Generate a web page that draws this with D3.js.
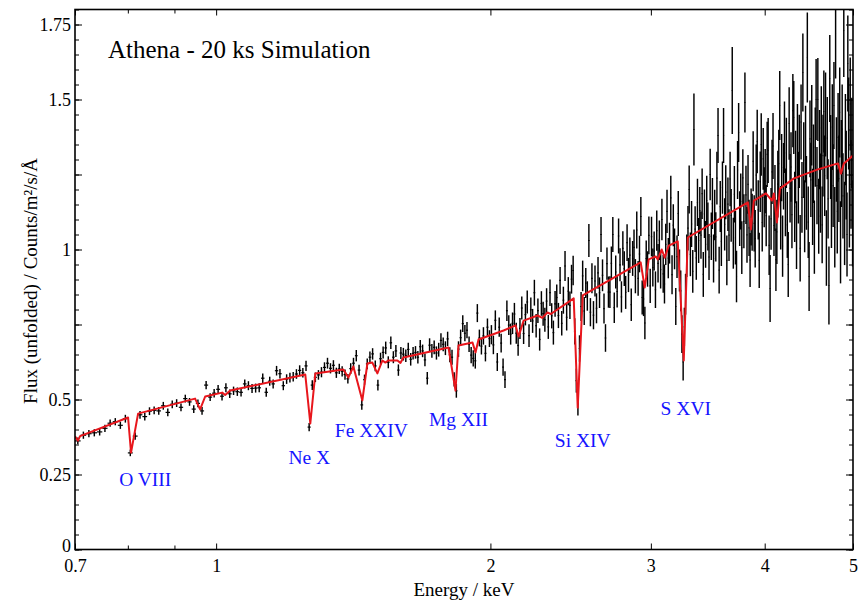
<!DOCTYPE html>
<html><head><meta charset="utf-8">
<script src="https://cdn.jsdelivr.net/npm/d3@7"></script>
<style>body{margin:0;background:#fff}svg{display:block}text{font-family:"Liberation Serif","Times New Roman",serif}</style>
</head><body><svg id="c" width="868" height="603"></svg>
<script>
// ---- data ----
const energy=[
0.705,0.715,0.725,0.735,0.745,0.755,0.765,0.775,0.785,0.795,
0.805,0.815,0.825,0.835,0.845,0.855,0.865,0.875,0.885,0.895,
0.905,0.915,0.925,0.935,0.945,0.955,0.965,0.975,0.985,0.995,
1.005,1.015,1.025,1.035,1.045,1.055,1.065,1.075,1.085,1.095,
1.105,1.115,1.125,1.135,1.145,1.155,1.165,1.175,1.185,1.195,
1.205,1.215,1.225,1.235,1.245,1.255,1.265,1.275,1.285,1.295,
1.305,1.315,1.325,1.335,1.345,1.355,1.365,1.375,1.385,1.395,
1.405,1.415,1.425,1.435,1.445,1.455,1.465,1.475,1.485,1.495,
1.505,1.515,1.525,1.535,1.545,1.555,1.565,1.575,1.585,1.595,
1.605,1.615,1.625,1.635,1.645,1.655,1.665,1.675,1.685,1.695,
1.705,1.715,1.725,1.735,1.745,1.755,1.765,1.775,1.785,1.795,
1.805,1.815,1.825,1.835,1.845,1.855,1.865,1.875,1.885,1.895,
1.905,1.915,1.925,1.935,1.945,1.955,1.965,1.975,1.985,1.995,
2.005,2.015,2.025,2.035,2.045,2.055,2.065,2.075,2.085,2.095,
2.105,2.115,2.125,2.135,2.145,2.155,2.165,2.175,2.185,2.195,
2.205,2.215,2.225,2.235,2.245,2.255,2.265,2.275,2.285,2.295,
2.305,2.315,2.325,2.335,2.345,2.355,2.365,2.375,2.385,2.395,
2.405,2.415,2.425,2.435,2.445,2.455,2.465,2.475,2.485,2.495,
2.505,2.515,2.525,2.535,2.545,2.555,2.565,2.575,2.585,2.595,
2.605,2.615,2.625,2.635,2.645,2.655,2.665,2.675,2.685,2.695,
2.705,2.715,2.725,2.735,2.745,2.755,2.765,2.775,2.785,2.795,
2.805,2.815,2.825,2.835,2.845,2.855,2.865,2.875,2.885,2.895,
2.905,2.915,2.925,2.935,2.945,2.955,2.965,2.975,2.985,2.995,
3.005,3.015,3.025,3.035,3.045,3.055,3.065,3.075,3.085,3.095,
3.105,3.115,3.125,3.135,3.145,3.155,3.165,3.175,3.185,3.195,
3.205,3.215,3.225,3.235,3.245,3.255,3.265,3.275,3.285,3.295,
3.305,3.315,3.325,3.335,3.345,3.355,3.365,3.375,3.385,3.395,
3.405,3.415,3.425,3.435,3.445,3.455,3.465,3.475,3.485,3.495,
3.505,3.515,3.525,3.535,3.545,3.555,3.565,3.575,3.585,3.595,
3.605,3.615,3.625,3.635,3.645,3.655,3.665,3.675,3.685,3.695,
3.705,3.715,3.725,3.735,3.745,3.755,3.765,3.775,3.785,3.795,
3.805,3.815,3.825,3.835,3.845,3.855,3.865,3.875,3.885,3.895,
3.905,3.915,3.925,3.935,3.945,3.955,3.965,3.975,3.985,3.995,
4.005,4.015,4.025,4.035,4.045,4.055,4.065,4.075,4.085,4.095,
4.105,4.115,4.125,4.135,4.145,4.155,4.165,4.175,4.185,4.195,
4.205,4.215,4.225,4.235,4.245,4.255,4.265,4.275,4.285,4.295,
4.305,4.315,4.325,4.335,4.345,4.355,4.365,4.375,4.385,4.395,
4.405,4.415,4.425,4.435,4.445,4.455,4.465,4.475,4.485,4.495,
4.505,4.515,4.525,4.535,4.545,4.555,4.565,4.575,4.585,4.595,
4.605,4.615,4.625,4.635,4.645,4.655,4.665,4.675,4.685,4.695,
4.705,4.715,4.725,4.735,4.745,4.755,4.765,4.775,4.785,4.795,
4.805,4.815,4.825,4.835,4.845,4.855,4.865,4.875,4.885,4.895,
4.905,4.915,4.925,4.935,4.945,4.955,4.965,4.975,4.985,4.995];

const flux=[
0.362,0.381,0.386,0.389,0.392,0.404,0.421,0.426,0.414,0.436,
0.322,0.378,0.449,0.443,0.461,0.464,0.462,0.479,0.457,0.484,
0.488,0.474,0.503,0.492,0.468,0.487,0.462,0.548,0.508,0.521,
0.534,0.511,0.539,0.519,0.529,0.526,0.524,0.552,0.546,0.537,
0.538,0.539,0.571,0.524,0.561,0.552,0.596,0.586,0.546,0.568,
0.573,0.576,0.585,0.597,0.589,0.612,0.408,0.548,0.574,0.582,
0.591,0.607,0.621,0.604,0.614,0.589,0.602,0.594,0.583,0.569,
0.603,0.621,0.646,0.598,0.482,0.566,0.619,0.641,0.652,0.612,
0.548,0.636,0.657,0.672,0.624,0.689,0.641,0.662,0.598,0.655,
0.651,0.646,0.667,0.634,0.654,0.657,0.641,0.676,0.662,0.632,
0.571,0.681,0.662,0.674,0.655,0.666,0.697,0.684,0.671,0.702,
0.649,0.641,0.567,0.529,0.668,0.706,0.753,0.721,0.731,0.684,
0.648,0.637,0.629,0.788,0.705,0.678,0.712,0.654,0.741,0.703,
0.716,0.682,0.764,0.625,0.741,0.688,0.608,0.566,0.796,0.748,
0.718,0.754,0.785,0.721,0.680,0.737,0.805,0.720,0.783,0.825,
0.713,0.799,0.762,0.856,0.746,0.796,0.700,0.820,0.786,0.766,
0.828,0.742,0.856,0.779,0.723,0.819,0.840,0.780,0.897,0.754,
0.831,0.945,0.774,0.861,0.814,0.901,0.930,0.727,0.563,0.485,
0.670,0.810,0.912,0.795,0.888,0.845,1.030,0.791,0.904,0.781,
0.895,0.804,0.922,0.856,1.050,0.914,0.803,0.705,0.953,0.858,
0.858,0.954,1.050,0.806,0.925,0.860,1.045,0.949,0.842,1.004,
0.936,0.857,1.023,0.915,0.981,0.816,0.970,1.007,0.911,1.065,
0.904,0.985,1.110,0.840,0.835,0.755,0.970,0.935,1.047,0.879,
1.043,0.940,0.995,0.866,1.063,0.954,1.031,0.933,1.100,0.919,
0.885,1.017,1.127,0.971,1.021,1.172,0.916,1.081,1.002,0.810,
0.976,1.120,0.930,0.862,0.718,0.625,0.742,0.851,0.979,1.071,
1.200,0.984,1.085,0.927,1.400,1.068,0.972,1.157,1.030,1.130,
1.048,1.186,0.917,1.119,1.017,1.163,1.077,0.975,1.250,1.044,
1.153,0.970,1.115,1.042,1.238,1.380,0.931,1.143,1.027,1.206,
1.380,1.084,1.191,0.964,1.151,1.048,1.235,1.114,1.530,1.021,
1.184,1.039,0.910,1.265,1.390,1.103,1.160,1.006,1.239,1.094,
1.490,1.182,1.049,1.217,1.072,0.965,1.108,1.091,1.294,1.087,
1.036,1.248,1.360,1.132,0.964,1.226,1.350,1.090,1.302,1.174,
1.228,1.113,1.317,1.330,1.014,0.870,1.102,1.259,1.345,1.080,
1.172,0.966,1.059,1.218,1.286,1.480,1.106,1.273,1.011,1.244,
1.374,1.157,1.322,1.082,0.950,1.420,1.204,1.275,1.116,1.463,
1.440,1.142,1.275,1.048,1.361,1.206,1.327,1.004,1.425,1.174,
1.590,1.298,1.111,1.351,1.189,1.640,1.091,0.910,1.369,1.232,
1.414,1.142,1.286,1.041,1.341,1.500,1.213,1.500,1.111,1.333,
1.188,1.405,1.082,1.313,1.460,1.246,1.450,1.005,1.371,1.169,
0.880,1.570,1.308,1.141,1.408,1.213,1.480,1.074,1.720,1.300,
1.127,1.374,1.236,1.457,1.024,1.287,1.401,1.179,1.730,1.087,
1.366,1.248,1.050,1.620,1.420,1.153,1.485,1.217,1.355,1.087];

const fluxErr=[
0.011,0.012,0.012,0.012,0.012,0.012,0.012,0.012,0.012,0.013,
0.011,0.012,0.013,0.013,0.013,0.013,0.013,0.013,0.013,0.013,
0.013,0.013,0.013,0.013,0.013,0.013,0.013,0.014,0.013,0.014,
0.014,0.014,0.015,0.014,0.014,0.014,0.014,0.015,0.015,0.015,
0.015,0.015,0.016,0.015,0.015,0.015,0.016,0.016,0.015,0.016,
0.016,0.016,0.016,0.017,0.016,0.017,0.014,0.016,0.016,0.016,
0.017,0.017,0.018,0.017,0.017,0.017,0.017,0.017,0.017,0.016,
0.018,0.018,0.019,0.018,0.016,0.017,0.018,0.019,0.019,0.018,
0.018,0.020,0.020,0.021,0.020,0.021,0.020,0.020,0.019,0.020,
0.021,0.021,0.022,0.021,0.021,0.021,0.021,0.022,0.021,0.021,
0.021,0.023,0.023,0.023,0.022,0.023,0.024,0.023,0.023,0.024,
0.025,0.025,0.024,0.023,0.026,0.027,0.028,0.027,0.027,0.026,
0.027,0.027,0.026,0.030,0.028,0.028,0.029,0.027,0.029,0.028,
0.032,0.031,0.033,0.030,0.032,0.031,0.029,0.028,0.034,0.033,
0.035,0.036,0.037,0.035,0.034,0.035,0.038,0.035,0.036,0.038,
0.038,0.041,0.040,0.043,0.039,0.041,0.037,0.041,0.040,0.040,
0.043,0.040,0.044,0.042,0.040,0.043,0.043,0.042,0.045,0.041,
0.045,0.050,0.044,0.047,0.046,0.048,0.049,0.044,0.040,0.038,
0.044,0.048,0.051,0.047,0.050,0.049,0.055,0.047,0.050,0.047,
0.052,0.050,0.053,0.051,0.058,0.053,0.050,0.046,0.054,0.052,
0.053,0.056,0.058,0.051,0.055,0.053,0.058,0.055,0.052,0.057,
0.058,0.055,0.061,0.057,0.059,0.054,0.058,0.060,0.057,0.062,
0.058,0.061,0.065,0.057,0.057,0.054,0.060,0.059,0.063,0.057,
0.066,0.063,0.065,0.061,0.067,0.064,0.066,0.063,0.069,0.063,
0.065,0.069,0.072,0.067,0.068,0.074,0.065,0.070,0.068,0.062,
0.071,0.075,0.070,0.068,0.063,0.062,0.064,0.068,0.071,0.074,
0.080,0.073,0.077,0.071,0.120,0.076,0.073,0.079,0.075,0.078,
0.079,0.084,0.075,0.081,0.078,0.083,0.080,0.077,0.086,0.079,
0.085,0.080,0.084,0.082,0.088,0.092,0.078,0.085,0.082,0.087,
0.092,0.087,0.090,0.083,0.089,0.086,0.091,0.088,0.145,0.085,
0.094,0.089,0.086,0.097,0.098,0.091,0.093,0.088,0.095,0.090,
0.100,0.097,0.093,0.098,0.094,0.090,0.095,0.095,0.100,0.094,
0.096,0.102,0.106,0.099,0.092,0.101,0.104,0.097,0.103,0.100,
0.107,0.102,0.109,0.108,0.099,0.112,0.103,0.107,0.110,0.102,
0.110,0.104,0.107,0.111,0.113,0.115,0.106,0.112,0.102,0.111,
0.119,0.113,0.117,0.110,0.108,0.121,0.114,0.116,0.112,0.122,
0.122,0.117,0.121,0.113,0.124,0.119,0.122,0.111,0.125,0.118,
0.130,0.126,0.120,0.128,0.123,0.150,0.119,0.115,0.128,0.124,
0.134,0.127,0.131,0.122,0.132,0.135,0.129,0.138,0.125,0.132,
0.132,0.139,0.128,0.136,0.137,0.134,0.140,0.126,0.137,0.132,
0.130,0.145,0.140,0.136,0.143,0.138,0.145,0.134,0.150,0.141,
0.140,0.148,0.144,0.150,0.137,0.145,0.149,0.142,0.155,0.139,
0.152,0.148,0.140,0.160,0.153,0.146,0.155,0.148,0.151,0.144];

const modelEnergy=[0.700,0.7053,0.709,0.8005,0.8065,0.8210,0.9482,0.9603,0.9727,1.0154,1.0231,1.0361,
1.2527,1.2687,1.2849,1.3793,1.3967,1.4145,1.4470,1.4655,1.4841,1.5030,1.5222,1.5338,1.5450,1.5811,1.5931,1.6052,
1.7989,1.8310,1.8449,1.9115,1.9261,1.9408,2.0676,2.1314,2.1476,2.1750,2.2533,2.2800,2.3100,2.3300,
2.4686,2.4937,2.5254,2.9239,2.9537,2.9838,3.0371,3.0525,3.0836,3.1071,3.1387,3.2110,3.2601,3.2933,
3.8336,3.8628,3.8922,4.0122,4.0737,4.0943,4.1255,4.1569,4.3068,4.5756,4.8131,4.8497,4.8867,5.0000];
const modelFlux=[0.377,0.363,0.378,0.440,0.323,0.453,0.503,0.467,0.510,0.523,0.515,0.530,
0.583,0.420,0.587,0.600,0.573,0.610,0.497,0.620,0.623,0.587,0.630,0.623,0.630,0.630,0.622,0.640,
0.673,0.530,0.680,0.690,0.657,0.700,0.730,0.747,0.710,0.763,0.780,0.772,0.790,0.785,
0.837,0.473,0.847,0.957,0.873,0.967,0.977,0.967,1.000,0.973,1.013,1.027,0.630,1.040,
1.157,1.067,1.163,1.187,1.163,1.187,1.090,1.203,1.237,1.267,1.287,1.253,1.287,1.313];

const xTickValues=[0.7,1,2,3,4,5];
const xMinorTickValues=[0.8,0.9];
const yMajorTickValues=[0,0.25,0.5,0.75,1,1.25,1.5,1.75];
const yLabelValues=[0,0.25,0.5,1,1.5,1.75];
const lineNames=["O VIII","Ne X","Fe XXIV","Mg XII","Si XIV","S XVI"];
const lineLabelEnergy=[0.836,1.2655,1.4805,1.845,2.5254,3.277];
const lineLabelFlux=[0.212,0.285,0.375,0.412,0.342,0.448];
const binHalfWidth=0.005;

// ---- drawing ----
const svg=d3.select("#c");
const L=75,R=853,T=9.5,B=549.5;
const x=d3.scaleLog().domain([0.7,5]).range([L,R]);
const y=d3.scaleLinear().domain([0,1.8]).range([B,T]);
const FONT='"Liberation Serif","Times New Roman",serif';

svg.append("defs").append("clipPath").attr("id","clip")
  .append("rect").attr("x",L).attr("y",T).attr("width",R-L).attr("height",B-T);

// data points
const gd=svg.append("g").attr("clip-path","url(#clip)").attr("stroke","#000");
const idx=d3.range(energy.length);
gd.selectAll("line.v").data(idx).join("line").attr("class","v")
  .attr("stroke-width",1.45)
  .attr("x1",i=>x(energy[i])).attr("x2",i=>x(energy[i]))
  .attr("y1",i=>y(flux[i]-fluxErr[i])).attr("y2",i=>y(flux[i]+fluxErr[i]));
gd.selectAll("line.h").data(idx).join("line").attr("class","h")
  .attr("stroke-width",1.2)
  .attr("x1",i=>x(energy[i]-binHalfWidth)).attr("x2",i=>x(energy[i]+binHalfWidth))
  .attr("y1",i=>y(flux[i])).attr("y2",i=>y(flux[i]));

// model
const mi=d3.range(modelEnergy.length);
svg.append("path").attr("clip-path","url(#clip)")
  .attr("d",d3.line().x(i=>x(modelEnergy[i])).y(i=>y(modelFlux[i]))(mi))
  .attr("fill","none").attr("stroke","#e8161c").attr("stroke-width",2).attr("stroke-linejoin","round");

// axes
function styleAxis(g){
  g.select(".domain").remove();
  g.selectAll("line").attr("stroke","#000").attr("stroke-width",1);
  g.selectAll("text").attr("font-family",FONT).attr("font-size",18).attr("fill","#000");
}
svg.append("g").attr("transform",`translate(0,${B})`)
  .call(d3.axisBottom(x).tickValues(xTickValues).tickFormat(d3.format("")).tickSize(-6).tickPadding(10)).call(styleAxis);
svg.append("g").attr("transform",`translate(0,${B})`)
  .call(d3.axisBottom(x).tickValues(xMinorTickValues).tickFormat("").tickSize(-4)).call(styleAxis);
svg.append("g").attr("transform",`translate(0,${T})`)
  .call(d3.axisTop(x).tickValues(xTickValues).tickFormat("").tickSize(-6)).call(styleAxis);
svg.append("g").attr("transform",`translate(0,${T})`)
  .call(d3.axisTop(x).tickValues(xMinorTickValues).tickFormat("").tickSize(-4)).call(styleAxis);

const yMinor=d3.range(0,1.8001,0.05);
svg.append("g").attr("transform",`translate(${L},0)`)
  .call(d3.axisLeft(y).tickValues(yMinor).tickFormat("").tickSize(-4)).call(styleAxis);
svg.append("g").attr("transform",`translate(${L},0)`)
  .call(d3.axisLeft(y).tickValues(yMajorTickValues).tickFormat("").tickSize(-7)).call(styleAxis);
const yLab=svg.append("g").attr("transform",`translate(${L},0)`)
  .call(d3.axisLeft(y).tickValues(yLabelValues).tickFormat(d=>String(d)).tickSize(0).tickPadding(4)).call(styleAxis);
yLab.selectAll("text").filter(d=>d===0).attr("dy","0.1em");
svg.append("g").attr("transform",`translate(${R},0)`)
  .call(d3.axisRight(y).tickValues(yMinor).tickFormat("").tickSize(-4)).call(styleAxis);
svg.append("g").attr("transform",`translate(${R},0)`)
  .call(d3.axisRight(y).tickValues(yMajorTickValues).tickFormat("").tickSize(-7)).call(styleAxis);

// frame
svg.append("rect").attr("x",L).attr("y",T).attr("width",R-L).attr("height",B-T)
  .attr("fill","none").attr("stroke","#000").attr("stroke-width",1.6);

// line labels
svg.selectAll("text.lab").data(lineNames).join("text").attr("class","lab")
  .attr("x",(d,i)=>x(lineLabelEnergy[i])).attr("y",(d,i)=>y(lineLabelFlux[i]))
  .attr("text-anchor","middle").attr("font-family",FONT).attr("font-size",19.5).attr("fill","#1414ff")
  .text(d=>d);

// titles
svg.append("text").attr("x",108).attr("y",58).attr("font-family",FONT).attr("font-size",25)
  .text("Athena - 20 ks Simulation");
svg.append("text").attr("x",(L+R)/2).attr("y",596).attr("text-anchor","middle")
  .attr("font-family",FONT).attr("font-size",19).text("Energy / keV");
svg.append("text").attr("transform","translate(37,281) rotate(-90)").attr("text-anchor","middle")
  .attr("font-family",FONT).attr("font-size",19).text("Flux (unfolded) / Counts/m²/s/Å");
</script></body></html>
